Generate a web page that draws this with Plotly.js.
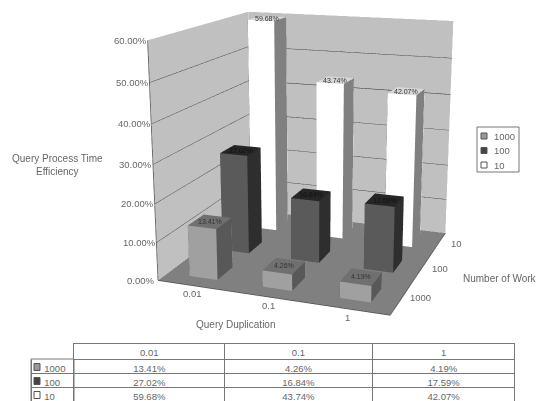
<!DOCTYPE html>
<html><head><meta charset="utf-8">
<script src="https://cdn.plot.ly/plotly-3.0.1.min.js"></script>
<style>html,body{margin:0;padding:0;background:#fff;overflow:hidden;width:541px;height:401px}
#wrap{position:absolute;left:0;top:0;width:541px;height:401px;overflow:hidden;filter:blur(0.75px)}
#g{position:absolute}
#g .cell-text{transform:translateY(-2px)}</style></head><body><div id="wrap"><div id="g"></div></div>
<script>
const duplication = ['0.01','0.1','1'];
const workers = ['1000','100','10'];
const work1000 = [13.41,4.26,4.19];
const work100 = [27.02,16.84,17.59];
const work10 = [59.68,43.74,42.07];
const valueLabels1000 = ['13.41%','4.26%','4.19%'];
const valueLabels100 = ['27.02%','16.84%','17.59%'];
const valueLabels10 = ['59.68%','43.74%','42.07%'];
const zTicks = [0,10,20,30,40,50,60];
const zTickText = ['0.00%','10.00%','20.00%','30.00%','40.00%','50.00%','60.00%'];

// oversized plotting area so the 3D view has a long, Excel-like lens
const W=1082,H=802,cx=311,cy=146;
const left=cx-W/2, top_=cy-H/2;
const g=document.getElementById('g');
g.style.left=left+'px';g.style.top=top_+'px';
const px=x=>(x-left)/W, py=y=>1-(y-top_)/H;

const styles=[
 {front:'#a0a0a0',side:'#585858',top:'#707070',legend:'#999999'},
 {front:'#5a5a5a',side:'#2e2e2e',top:'#262626',legend:'#444444'},
 {front:'#ffffff',side:'#808080',top:'#d8d8d8',legend:'#ffffff'}];
const hx=0.195,hy=0.23;
const lighting={ambient:1,diffuse:0,specular:0,roughness:1,fresnel:0};
const FONT='Liberation Sans', TXT='#666666';

function barTrace(values,j,st){
  const X=[],Y=[],Z=[],I=[],J=[],K=[],C=[];
  values.forEach((v,i)=>{
    const b=X.length,x0=i+.5-hx,x1=i+.5+hx,y0=j+.5-hy,y1=j+.5+hy;
    [[x0,y0,0],[x1,y0,0],[x1,y1,0],[x0,y1,0],[x0,y0,v],[x1,y0,v],[x1,y1,v],[x0,y1,v]].forEach(p=>{X.push(p[0]);Y.push(p[1]);Z.push(p[2]);});
    const tri=(a,c,d,col)=>{I.push(b+a);J.push(b+c);K.push(b+d);C.push(col);};
    tri(0,1,5,st.front);tri(0,5,4,st.front);
    tri(1,2,6,st.side);tri(1,6,5,st.side);
    tri(4,5,6,st.top);tri(4,6,7,st.top);
    tri(3,0,4,st.side);tri(3,4,7,st.side);
    tri(2,3,7,st.front);tri(2,7,6,st.front);
  });
  return {type:'mesh3d',x:X,y:Y,z:Z,i:I,j:J,k:K,facecolor:C,flatshading:true,lighting:lighting,showlegend:false,hoverinfo:'skip',showscale:false};
}
const maxZ=zTicks[zTicks.length-1], nx=duplication.length, ny=workers.length;
const walls={type:'mesh3d',showlegend:false,hoverinfo:'skip',flatshading:true,lighting:lighting,
 x:[0,nx,nx,0,0,nx,nx,0],y:[0,0,ny,ny,0,0,ny,ny],z:[0,0,0,0,maxZ,maxZ,maxZ,maxZ],
 i:[0,0,3,3,0,0],j:[1,2,2,6,3,7],k:[2,3,6,7,7,4],
 facecolor:['#808080','#808080','#c0c0c0','#c0c0c0','#c0c0c0','#c0c0c0']};
const gx=[],gy=[],gz=[];
zTicks.slice(1,-1).forEach(z=>{gx.push(0,0,nx,null);gy.push(0,ny,ny,null);gz.push(z,z,z,null);});
const grid={type:'scatter3d',mode:'lines',x:gx,y:gy,z:gz,line:{color:'#303030',width:1.5},showlegend:false,hoverinfo:'skip'};
const edges={type:'scatter3d',mode:'lines',x:[0,0,null,0,nx,nx],y:[0,0,null,0,0,ny],z:[0,maxZ,null,0,0,0],line:{color:'#505050',width:1.5},showlegend:false,hoverinfo:'skip'};

const series=[work1000,work100,work10];
const bars=series.map((s,j)=>barTrace(s,j,styles[j]));

const NB='\u00a0';
const table={type:'table',domain:{x:[px(31),px(516)],y:[py(402),py(343)]},columnwidth:[43,151,148,143],
 header:{values:['','0.01','0.1','1'],height:16,align:'center',font:{family:FONT,size:9.5,color:TXT},
   line:{color:['#ffffff','#777','#777','#777'],width:1},fill:{color:'#fff'}},
 cells:{values:[
   workers.map(w=>NB+NB+w),
   [valueLabels1000[0],valueLabels100[0],valueLabels10[0]],
   [valueLabels1000[1],valueLabels100[1],valueLabels10[1]],
   [valueLabels1000[2],valueLabels100[2],valueLabels10[2]]],
   height:14,align:['left','center','center','center'],font:{family:FONT,size:9.5,color:TXT},
   line:{color:'#777',width:1},fill:{color:'#fff'}}};

const T=(x,y,z,text,xs,ys,size,col)=>({x:x,y:y,z:z,text:text,showarrow:false,xshift:xs||0,yshift:ys||0,font:{family:FONT,size:size||9.5,color:col||TXT}});
const sceneAnn=[];
zTicks.forEach((z,i)=>sceneAnn.push(T(0,0,z,zTickText[i],-17,0)));
duplication.forEach((d,i)=>sceneAnn.push(T(i+.5,0,0,d,-1,-8)));
workers.forEach((w,j)=>sceneAnn.push(T(nx,j+.5,0,w,19,1)));
[valueLabels1000,valueLabels100,valueLabels10].forEach((s,j)=>s.forEach((t,i)=>sceneAnn.push(T(i+.5,j+.5,series[j][i],t,0,0,7,j===1?'#111':'#333'))));

const P=(x,y,text,extra)=>Object.assign({xref:'paper',yref:'paper',x:px(x),y:py(y),xanchor:'center',yanchor:'middle',text:text,showarrow:false,font:{family:FONT,size:10,color:TXT}},extra||{});
const annotations=[
  P(57,165,'Query Process Time<br>Efficiency'),
  P(235,324,'Query Duplication'),
  P(500,278,'Number of Work')];
const rect=(x0,y0,x1,y1,fill,line)=>({type:'rect',xref:'paper',yref:'paper',x0:px(x0),x1:px(x1),y0:py(y0),y1:py(y1),fillcolor:fill,line:{color:line,width:1},layer:'above'});
const shapes=[rect(477,127,519,172,'rgba(255,255,255,0)','#777'),rect(31,359,74,405,'rgba(255,255,255,0)','#777')];
workers.forEach((w,j)=>{
  const ly=136+j*14.5, ty=367+j*14;
  shapes.push(rect(481,ly-3,487,ly+3,styles[j].legend,'#555'));
  annotations.push(P(492,ly,w,{xanchor:'left',font:{family:FONT,size:9.5,color:TXT}}));
  shapes.push(rect(34,ty-3.5,40,ty+3.5,styles[j].legend,'#555'));
});

const d=3.93, sinE=.255, cosE=Math.sqrt(1-sinE*sinE), ex=.342*cosE*d,ey=-.94*cosE*d,ez=sinE*d;
const layout={width:W,height:H,margin:{l:0,r:0,t:0,b:0},paper_bgcolor:'#fff',showlegend:false,
 shapes:shapes,annotations:annotations,
 scene:{domain:{x:[0,1],y:[0,1]},
  aspectmode:'manual',aspectratio:{x:.94,y:.92,z:.945},
  camera:{eye:{x:ex,y:ey,z:ez},center:{x:0,y:0,z:0},up:{x:0,y:0,z:1}},
  xaxis:{visible:false,range:[0,nx]},yaxis:{visible:false,range:[0,ny]},zaxis:{visible:false,range:[0,maxZ]},
  annotations:sceneAnn}};
Plotly.newPlot('g',[walls,grid,edges,...bars,table],layout,{displayModeBar:false,responsive:false});
</script></body></html>
